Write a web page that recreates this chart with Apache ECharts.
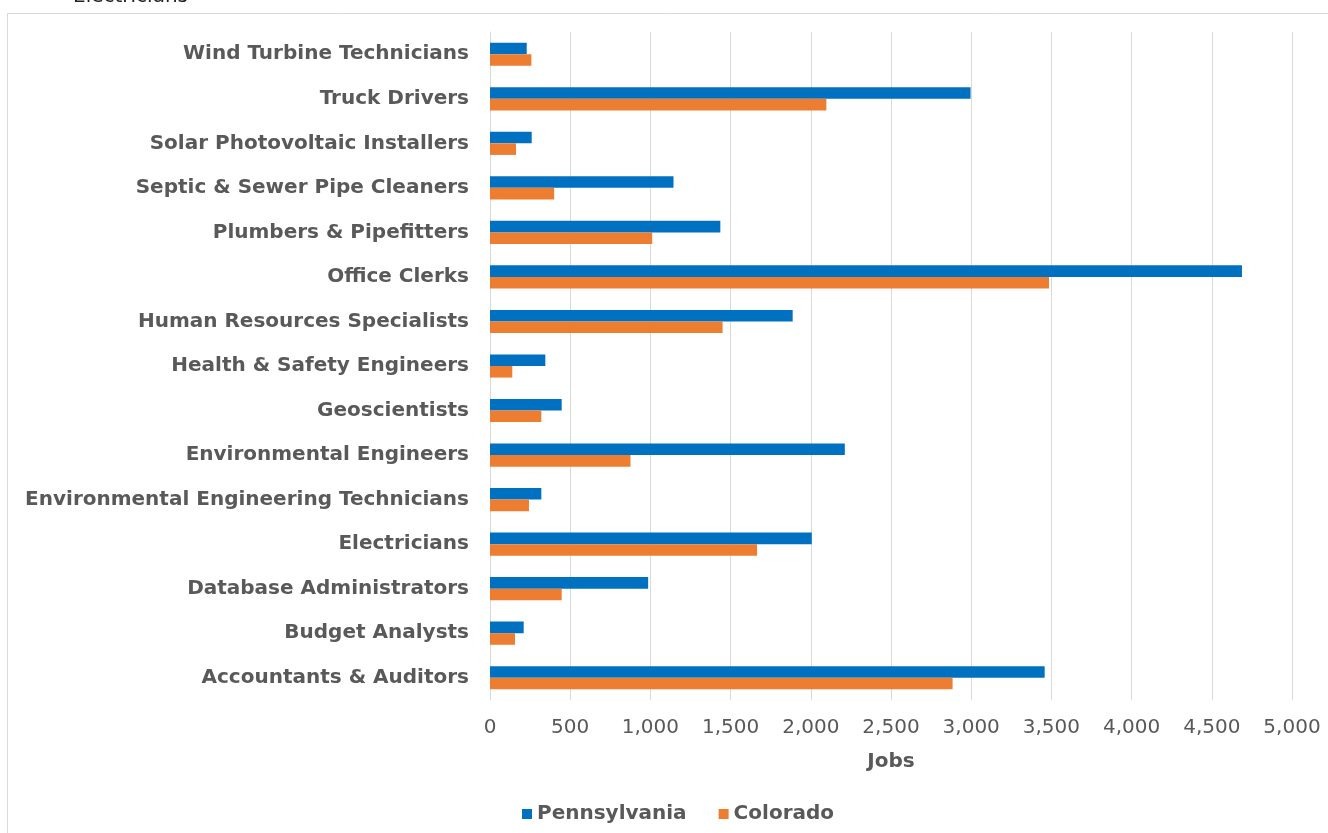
<!DOCTYPE html>
<html>
<head>
<meta charset="utf-8">
<script src="https://cdn.jsdelivr.net/npm/echarts@6/dist/echarts.min.js"></script>
<style>html,body{margin:0;padding:0;background:#fff;}#chart{width:1328px;height:833px;}</style>
</head>
<body>
<div id="chart"></div>
<script>
const categories = [
  "Accountants & Auditors",
  "Budget Analysts",
  "Database Administrators",
  "Electricians",
  "Environmental Engineering Technicians",
  "Environmental Engineers",
  "Geoscientists",
  "Health & Safety Engineers",
  "Human Resources Specialists",
  "Office Clerks",
  "Plumbers & Pipefitters",
  "Septic & Sewer Pipe Cleaners",
  "Solar Photovoltaic Installers",
  "Truck Drivers",
  "Wind Turbine Technicians"
];
const pennsylvania = [3458, 210, 986, 2006, 320, 2212, 447, 345, 1887, 4688, 1436, 1144, 260, 2996, 229];
const colorado     = [2884, 156, 447, 1665, 243, 876, 320, 139, 1450, 3485, 1011, 400, 162, 2097, 258];
const xTicks = { min: 0, max: 5000, interval: 500 };
const seriesNames = ["Pennsylvania", "Colorado"];

const FONT = "DejaVu Sans";
const chart = echarts.init(document.getElementById('chart'), null, { renderer: 'canvas' });
chart.setOption({
  animation: false,
  backgroundColor: '#ffffff',
  grid: { left: 490, right: 36, top: 32, bottom: 133, containLabel: false },
  legend: {
    data: seriesNames,
    bottom: 4,
    left: 517,
    itemWidth: 10,
    itemHeight: 10,
    itemGap: 32,
    icon: 'rect',
    textStyle: { fontFamily: FONT, fontWeight: 'bold', fontSize: 20, color: '#595959' }
  },
  xAxis: {
    type: 'value',
    min: xTicks.min, max: xTicks.max, interval: xTicks.interval,
    name: 'Jobs',
    nameLocation: 'middle',
    nameGap: 52,
    nameTextStyle: { fontFamily: FONT, fontWeight: 'bold', fontSize: 20, color: '#595959' },
    axisLine: { show: false },
    axisTick: { show: false },
    axisLabel: {
      fontFamily: FONT, fontSize: 20, color: '#595959', margin: 18,
      formatter: v => v.toLocaleString('en-US')
    },
    splitLine: { show: true, lineStyle: { color: '#d9d9d9', width: 1 } }
  },
  yAxis: {
    type: 'category',
    data: categories,
    axisLine: { show: true, lineStyle: { color: '#d9d9d9' } },
    axisTick: { show: false },
    axisLabel: { fontFamily: FONT, fontWeight: 'bold', fontSize: 20, color: '#595959', margin: 21 }
  },
  series: [
    {
      name: 'Pennsylvania', type: 'bar', data: pennsylvania,
      itemStyle: { color: '#0070C0' },
      barGap: '0%', barCategoryGap: '48%'
    },
    {
      name: 'Colorado', type: 'bar', data: colorado,
      itemStyle: { color: '#ED7D31' },
      barGap: '0%', barCategoryGap: '48%'
    }
  ],
  graphic: [
    { type: 'rect', x: 0, y: 0, shape: { x: 7.5, y: 13.5, width: 1400, height: 900 },
      style: { fill: 'none', stroke: '#d9d9d9', lineWidth: 1 }, silent: true, z: -1 },
    { type: 'text', x: 73, y: 7, style: { text: 'Electricians', fontFamily: FONT, fontSize: 20, fill: '#222', verticalAlign: 'bottom' } }
  ]
});
</script>
</body>
</html>
